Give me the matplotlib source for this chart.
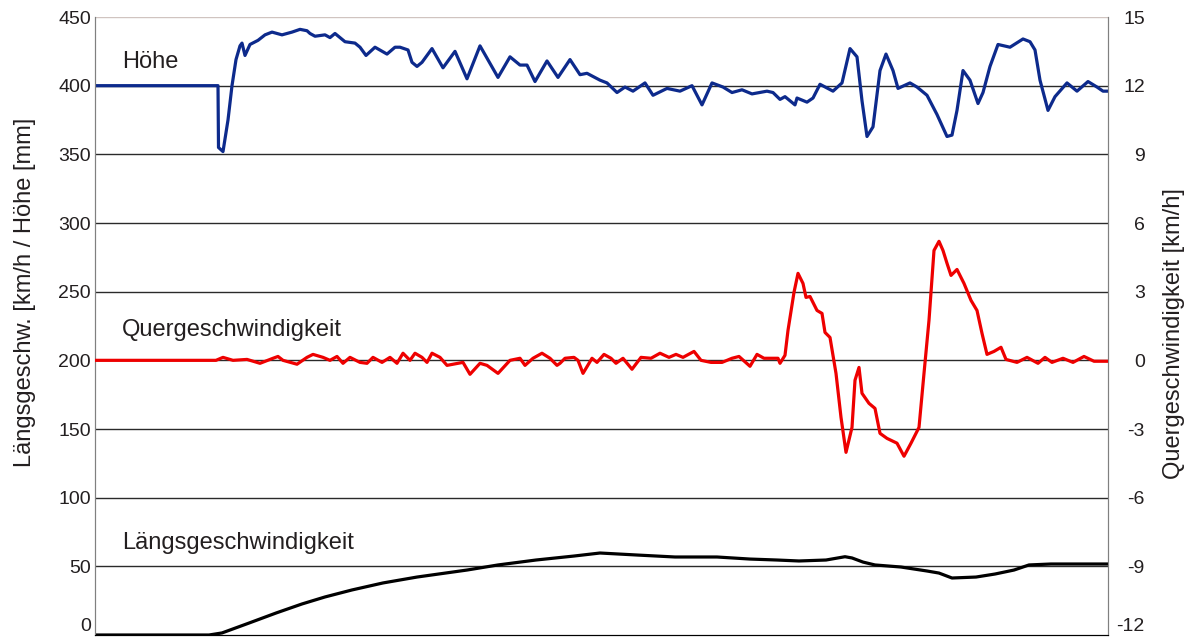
import matplotlib
matplotlib.use("Agg")
import matplotlib.pyplot as plt

plt.rcParams['font.family'] = ['Liberation Sans', 'DejaVu Sans']
plt.rcParams['axes.unicode_minus'] = False

# Höhe [mm] (left axis)
hoehe_x = [0, 123, 123.5, 128, 133, 137, 141, 145, 147, 150, 155, 163, 170, 177, 187, 197, 205, 212, 215,
           220, 230, 235, 240, 245, 250, 260, 265, 271, 280, 292, 300, 305, 313, 317, 322, 327, 337, 348,
           360, 372, 385, 403, 415, 425, 432, 440, 452, 463, 475, 485, 492, 505, 512, 522, 530, 538, 550,
           558, 572, 585, 597, 607, 617, 628, 637, 647, 657, 672, 678, 685, 690, 700, 702, 712, 718, 725,
           738, 747, 755, 762, 767, 772, 778, 785, 791, 798, 803, 815, 822, 832, 842, 852, 857, 862, 868,
           875, 883, 888, 895, 903, 915, 928, 935, 940, 945, 953, 960, 972, 982, 993, 1002, 1008, 1013]
hoehe_y = [400, 400, 355, 352, 375, 400, 419, 429, 431, 422, 430, 433, 437, 439, 437, 439, 441, 440, 438,
           436, 437, 435, 438, 435, 432, 431, 428, 422, 428, 423, 428, 428, 426, 417, 414, 417, 427, 413,
           425, 405, 429, 406, 421, 415, 415, 403, 418, 406, 419, 408, 409, 404, 402, 395, 399, 396, 402,
           393, 398, 396, 400, 386, 402, 399, 395, 397, 394, 396, 395, 390, 392, 386, 391, 388, 391, 401,
           396, 402, 427, 421, 389, 363, 370, 411, 423, 411, 398, 402, 399, 393, 379, 363, 364, 382, 411,
           404, 387, 395, 414, 430, 428, 434, 432, 426, 404, 382, 392, 402, 396, 403, 399, 396, 396]

# Quergeschwindigkeit [km/h] (right axis)
quer_x = [0, 121, 128, 138, 152, 165, 178, 183, 188, 202, 212, 218, 228, 235, 242, 248, 255, 265, 272, 278,
          287, 295, 302, 308, 315, 320, 327, 332, 337, 345, 352, 363, 368, 375, 385, 392, 403, 415, 425, 430,
          438, 447, 455, 462, 465, 470, 479, 483, 488, 497, 502, 509, 516, 521, 528, 537, 546, 556, 565, 574,
          581, 588, 599, 606, 616, 627, 637, 644, 655, 662, 669, 683, 685, 690, 693, 699, 703, 708, 711, 715,
          722, 727, 730, 735, 741, 746, 751, 757, 760, 764, 767, 774, 780, 785, 792, 802, 809, 816, 824, 829,
          834, 839, 844, 848, 852, 856, 862, 869, 876, 882, 887, 892, 899, 906, 911, 922, 932, 943, 950, 957,
          968, 978, 989, 999, 1013]
quer_y = [0, 0, 0.13, 0, 0.04, -0.13, 0.09, 0.17, 0, -0.17, 0.13, 0.26, 0.13, 0, 0.17, -0.13, 0.13, -0.09,
          -0.13, 0.13, -0.09, 0.13, -0.13, 0.31, 0, 0.31, 0.13, -0.09, 0.31, 0.13, -0.22, -0.13, -0.09, -0.61,
          -0.13, -0.22, -0.57, 0, 0.09, -0.22, 0.09, 0.31, 0.09, -0.22, -0.13, 0.09, 0.13, 0, -0.57, 0.09,
          -0.09, 0.26, 0.09, -0.13, 0.09, -0.39, 0.13, 0.09, 0.31, 0.13, 0.26, 0.13, 0.39, 0, -0.09, -0.09,
          0.09, 0.17, -0.26, 0.26, 0.09, 0.09, -0.13, 0.22, 1.31, 2.97, 3.80, 3.36, 2.75, 2.79, 2.18, 2.05,
          1.22, 1.0, -0.57, -2.49, -4.02, -2.93, -0.87, -0.31, -1.44, -1.88, -2.10, -3.19, -3.41, -3.62,
          -4.19, -3.62, -2.93, -0.57, 1.75, 4.80, 5.20, 4.80, 4.24, 3.71, 3.97, 3.36, 2.62, 2.18, 1.18, 0.26,
          0.39, 0.57, 0.04, -0.09, 0.13, -0.13, 0.13, -0.09, 0.09, -0.09, 0.17, -0.04, -0.04]

# Längsgeschwindigkeit [km/h] (left axis)
laengs_x = [0, 114, 127, 154, 181, 207, 230, 257, 288, 322, 372, 403, 441, 479, 505, 543, 580, 622, 655,
            682, 704, 731, 750, 757, 768, 780, 806, 832, 844, 857, 881, 900, 919, 934, 956, 1013]
laengs_y = [0, 0, 1.5, 8.7, 16, 22.6, 27.7, 32.8, 37.9, 42.2, 47.3, 51, 54.6, 57.5, 59.7, 58.2, 56.8, 56.8,
            55.3, 54.6, 53.9, 54.6, 57, 56.1, 53.1, 51, 49.5, 46.6, 45.1, 41.5, 42.2, 44.4, 47.3, 51, 51.7, 51.7]

left_ticks = list(range(0, 451, 50))
right_ticks = list(range(-12, 16, 3))

text_col = '#231f20'

fig = plt.figure(figsize=(11.9, 6.37), dpi=100)
ax = fig.add_axes([95 / 1190, 2 / 637, 1013 / 1190, 618 / 637])
ax2 = ax.twinx()

for v in left_ticks[1:]:
    ax.axhline(v, color='#2a2a2a' if v < 450 else '#d0c4c0', lw=1.0, zorder=1)

line_kw = dict(lw=2.3, solid_joinstyle='round', solid_capstyle='round', zorder=3)
ax.plot(hoehe_x, hoehe_y, color='#0d2a8c', **line_kw)
ax.plot(laengs_x, laengs_y, color='black', **line_kw)
ax2.plot(quer_x, quer_y, color='#ee0000', **line_kw)

ax.set_xlim(0, 1013)
ax.set_ylim(0, 450)
ax2.set_ylim(-12, 15)
ax.set_xticks([])
ax.set_yticks(left_ticks)
ax2.set_yticks(right_ticks)
ax.tick_params(axis='y', length=0, pad=3, labelsize=14, labelcolor=text_col)
ax2.tick_params(axis='y', length=0, pad=26.5, labelsize=14, labelcolor=text_col)
for lbl in ax2.get_yticklabels():
    lbl.set_ha('right')
ax.get_yticklabels()[0].set_va('bottom')
ax2.get_yticklabels()[0].set_va('bottom')

for a in (ax, ax2):
    a.spines['top'].set_visible(False)
    a.spines['left'].set_color('#808080')
    a.spines['right'].set_color('#808080')
    a.spines['bottom'].set_color('black')

ax.set_ylabel('Längsgeschw. [km/h / Höhe [mm]', fontsize=17, color=text_col)
ax.yaxis.set_label_coords(-0.058, 0.555)
ax2.set_ylabel('Quergeschwindigkeit [km/h]', fontsize=17, color=text_col, rotation=90)
ax2.yaxis.set_label_coords(1.054, 0.487)

ax.text(27, 417, 'Höhe', fontsize=17, color=text_col, va='center')
ax.text(27, 222, 'Quergeschwindigkeit', fontsize=17, color=text_col, va='center')
ax.text(27, 67, 'Längsgeschwindigkeit', fontsize=17, color=text_col, va='center')

fig.savefig('out.png', dpi=100)
